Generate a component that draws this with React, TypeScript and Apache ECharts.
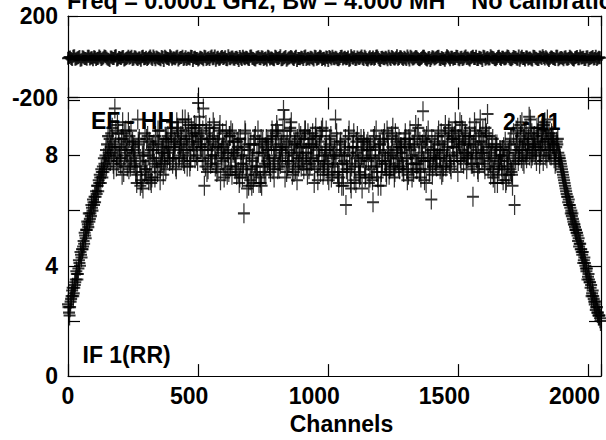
import React, { useEffect, useRef } from "react";
import * as echarts from "echarts";

// Channel sampling used for the plotted points: interleaved sets, every 8th channel each
const CHANNEL_STEP = 8;
const OFFSET_A = 4;
const OFFSET_B = 0;
const OFFSET_C = 2;
const OFFSET_D = 6;

const xTickLabels = [0, 500, 1000, 1500, 2000];
const ampTickLabels = [0, 4, 8];
const phaseTickLabels = [-200, 200];

const titleText = "Freq = 0.0001 GHz, Bw = 4.000 MH    No calibration";
const baselineLeft = "EF - HH";
const baselineRight = "2 - 11";
const ifLabel = "IF 1(RR)";
const xAxisName = "Channels";

// Amplitude, channels 4, 12, 20, ...
const amplitudeA = [
  2.3, 2.8, 2.9, 3.4, 3.5, 4.1, 4.3, 4.9, 5.0, 5.5, 5.7, 6.1, 6.2, 6.7, 6.7, 7.2,
  7.2, 7.7, 7.6, 8.1, 8.3, 8.5, 9.7, 8.0, 8.4, 7.9, 8.6, 8.2, 7.6, 8.7, 8.0, 8.3,
  7.4, 9.3, 7.8, 7.0, 8.1, 7.5, 8.0, 7.1, 8.3, 7.7, 7.9, 8.4, 7.6, 8.2, 8.0, 8.5,
  8.1, 8.6, 7.9, 8.4, 8.8, 8.0, 8.5, 7.8, 8.9, 8.2, 7.6, 8.7, 8.3, 9.0, 9.9, 8.4,
  7.9, 6.9, 8.8, 8.2, 7.7, 8.5, 8.0, 7.4, 8.6, 8.1, 7.8, 8.4, 7.3, 8.7, 7.9, 8.2,
  7.6, 8.3, 7.2, 8.0, 5.9, 7.5, 8.4, 7.1, 7.8, 8.6, 7.4, 8.1, 7.0, 8.5, 7.7, 8.2,
  7.9, 8.6, 7.5, 8.2, 8.9, 7.8, 8.4, 9.65, 8.0, 7.6, 8.7, 8.1, 7.4, 8.5, 7.9, 8.3,
  8.0, 8.6, 7.7, 8.3, 7.9, 8.8, 7.5, 8.2, 7.8, 8.5, 7.3, 8.1, 7.6, 8.4, 7.2, 8.0,
  9.3, 7.4, 8.1, 6.9, 7.8, 6.2, 8.3, 7.5, 8.0, 7.1, 8.5, 7.7, 7.3, 8.2, 7.6, 8.4,
  7.0, 7.9, 6.3, 8.3, 7.6, 8.0, 7.4, 8.6, 7.8, 8.2, 7.5, 8.7, 8.0, 7.7, 8.4, 8.1,
  7.6, 8.5, 7.9, 7.3, 8.2, 7.7, 8.6, 7.5, 8.0, 7.2, 9.6, 7.8, 8.3, 7.4, 6.4, 8.1,
  7.7, 8.4, 7.9, 7.3, 8.2, 7.6, 8.5, 8.0, 8.8, 7.8, 8.3, 8.6, 7.9, 8.9, 8.1, 7.5,
  8.4, 8.0, 6.5, 8.7, 8.2, 7.7, 8.5, 8.0, 9.0, 9.5, 7.8, 8.3, 7.4, 8.0, 7.6, 8.2,
  7.3, 7.9, 7.1, 8.1, 7.5, 6.9, 6.2, 8.4, 8.0, 8.7, 7.8, 8.5, 8.2, 9.4, 7.9, 8.6,
  8.1, 8.8, 7.7, 8.4, 9.1, 8.0, 8.6, 8.2, 8.7, 7.9, 8.3, 8.1, 7.8, 7.4, 7.0, 6.6,
  6.4, 5.9, 5.7, 5.4, 5.2, 4.7, 4.6, 4.1, 4.0, 3.5, 3.4, 2.9, 2.8, 2.4, 2.3, 2.1,
];

// Amplitude, channels 0, 8, 16, ...
const amplitudeB = [
  2.6, 2.5, 3.1, 3.2, 3.8, 3.9, 4.5, 4.6, 5.2, 5.3, 5.9, 5.8, 6.4, 6.3, 6.9, 7.0,
  7.5, 7.4, 8.0, 7.9, 8.6, 8.1, 7.5, 8.9, 7.8, 8.3, 7.3, 8.8, 8.1, 9.2, 7.6, 8.5,
  7.9, 7.0, 8.4, 7.6, 6.8, 8.8, 7.3, 8.5, 7.0, 8.2, 8.7, 7.4, 8.9, 7.8, 8.3, 7.5,
  8.7, 7.9, 9.2, 8.2, 7.5, 8.9, 8.3, 9.3, 7.7, 8.6, 9.1, 8.0, 8.8, 7.9, 8.5, 9.4,
  8.6, 9.7, 7.6, 8.4, 9.0, 7.9, 8.7, 8.3, 7.5, 9.1, 8.2, 7.2, 8.9, 8.0, 7.6, 8.8,
  8.1, 7.3, 8.6, 7.7, 7.9, 8.9, 6.8, 8.2, 7.5, 7.0, 8.7, 7.6, 8.4, 6.9, 8.0, 7.3,
  8.5, 7.6, 8.9, 7.2, 8.3, 8.7, 7.7, 8.1, 9.3, 7.4, 8.2, 8.9, 7.7, 8.4, 7.1, 8.8,
  7.6, 8.3, 8.9, 7.3, 8.6, 7.8, 8.4, 9.0, 7.1, 8.7, 8.0, 7.5, 8.9, 7.7, 8.3, 7.4,
  8.2, 8.8, 7.0, 8.5, 7.4, 8.0, 7.7, 8.9, 6.8, 8.3, 7.9, 8.7, 7.2, 8.0, 8.6, 7.3,
  8.5, 7.2, 8.0, 7.6, 8.9, 6.9, 8.4, 7.7, 8.8, 7.3, 8.1, 7.6, 9.0, 7.4, 8.2, 8.6,
  8.3, 7.5, 8.8, 7.1, 8.4, 8.0, 7.4, 9.1, 7.7, 8.5, 7.9, 8.6, 7.0, 8.9, 7.8, 7.3,
  8.2, 7.6, 8.9, 8.0, 7.4, 8.7, 7.9, 9.0, 7.5, 8.6, 9.2, 7.8, 8.4, 9.1, 7.7, 8.7,
  7.9, 9.0, 8.3, 7.6, 8.9, 7.4, 9.3, 8.1, 7.7, 8.8, 8.2, 7.3, 8.6, 7.0, 8.4, 7.5,
  8.0, 7.1, 8.5, 7.6, 8.2, 7.4, 8.8, 7.9, 9.0, 8.3, 9.2, 7.7, 8.9, 8.4, 9.3, 8.0,
  8.7, 7.8, 9.0, 8.2, 8.5, 9.2, 7.9, 8.8, 8.0, 8.6, 7.7, 8.4, 8.0, 7.6, 7.2, 6.8,
  6.5, 6.2, 5.8, 5.5, 5.3, 4.9, 4.8, 4.4, 4.3, 3.8, 3.7, 3.2, 3.1, 2.6, 2.5, 2.2,
];

// Amplitude, channels 2, 10, 18, ...
const amplitudeC = [
  2.5, 2.7, 3.2, 3.3, 3.7, 4.2, 4.4, 4.7, 5.1, 5.6, 5.6, 6.2, 6.3, 6.5, 6.9, 7.3,
  7.4, 7.9, 8.2, 8.7, 7.8, 9.0, 8.2, 7.6, 8.8, 7.7, 9.2, 8.0, 8.5, 7.5, 8.9, 8.1,
  8.2, 7.3, 8.6, 7.1, 8.0, 7.5, 8.7, 7.8, 7.2, 8.4, 7.6, 8.9, 7.1, 8.1, 7.7, 8.6,
  8.3, 9.0, 7.7, 8.5, 9.2, 7.9, 8.7, 8.1, 9.3, 7.6, 8.4, 9.0, 8.2, 8.8, 7.8, 9.1,
  8.3, 7.8, 9.1, 7.5, 8.6, 8.0, 9.0, 7.7, 8.3, 7.1, 8.8, 7.9, 8.5, 7.4, 8.9, 8.1,
  7.5, 8.5, 7.0, 8.2, 7.7, 8.8, 7.3, 8.0, 6.9, 8.4, 7.6, 8.9, 7.2, 8.1, 7.4, 8.6,
  8.2, 7.4, 8.7, 7.9, 9.1, 7.6, 8.3, 8.9, 7.2, 8.5, 7.8, 9.2, 8.0, 7.5, 8.6, 7.9,
  8.4, 7.5, 8.1, 8.8, 7.7, 8.3, 7.0, 8.6, 8.0, 7.4, 9.0, 7.8, 8.2, 7.1, 8.7, 7.9,
  7.7, 8.5, 7.2, 8.0, 6.9, 8.6, 7.4, 8.1, 7.6, 8.8, 7.0, 8.3, 7.8, 6.8, 8.5, 7.9,
  7.8, 8.3, 7.1, 8.7, 7.4, 8.2, 6.9, 8.5, 7.7, 8.9, 7.3, 8.0, 7.6, 8.8, 7.9, 7.5,
  8.1, 7.4, 8.6, 7.9, 8.9, 7.2, 8.3, 7.7, 9.0, 7.5, 8.4, 7.1, 8.7, 7.9, 8.2, 7.6,
  8.5, 7.9, 8.2, 8.8, 7.6, 9.1, 8.3, 7.7, 8.6, 8.0, 8.9, 7.4, 9.2, 8.2, 8.5, 7.9,
  8.1, 8.6, 7.7, 9.2, 7.9, 8.5, 8.1, 8.9, 7.5, 8.3, 8.7, 7.9, 7.2, 8.4, 7.0, 7.8,
  7.6, 8.3, 7.0, 7.8, 8.4, 7.3, 7.7, 8.9, 7.8, 9.1, 8.2, 8.8, 7.9, 8.6, 9.0, 8.3,
  8.4, 9.0, 8.2, 8.9, 7.8, 8.6, 9.3, 8.1, 8.8, 8.4, 7.8, 8.6, 7.9, 7.5, 7.1, 6.7,
  6.3, 6.1, 5.9, 5.5, 5.2, 5.0, 4.6, 4.5, 4.1, 3.9, 3.5, 3.3, 2.9, 2.7, 2.3, 2.2,
];

// Amplitude, channels 6, 14, 22, ...
const amplitudeD = [
  2.2, 2.9, 3.0, 3.5, 3.7, 4.0, 4.6, 4.8, 5.3, 5.4, 5.9, 6.0, 6.5, 6.6, 7.1, 7.0,
  7.6, 7.5, 8.4, 8.0, 8.8, 7.7, 8.3, 9.1, 7.9, 8.6, 7.4, 8.9, 8.2, 7.8, 8.4, 7.7,
  7.6, 8.5, 6.9, 8.0, 7.4, 8.6, 7.1, 8.2, 7.9, 7.2, 8.5, 7.7, 8.1, 7.3, 8.6, 7.9,
  7.8, 8.8, 8.3, 7.6, 9.0, 8.4, 7.9, 8.6, 8.2, 9.2, 7.8, 8.5, 9.1, 8.0, 8.7, 8.3,
  8.9, 8.2, 7.4, 8.6, 8.0, 9.2, 7.6, 8.4, 8.9, 7.9, 8.3, 7.5, 8.1, 8.7, 7.3, 8.5,
  8.0, 7.4, 8.6, 7.2, 8.3, 7.6, 6.9, 8.4, 7.9, 7.3, 8.1, 7.0, 8.6, 7.6, 8.3, 7.8,
  7.7, 8.4, 8.0, 8.8, 7.5, 8.2, 7.9, 8.6, 8.3, 7.8, 9.0, 7.3, 8.4, 8.1, 7.6, 8.7,
  7.8, 8.9, 8.1, 7.5, 8.4, 7.9, 8.7, 7.6, 8.3, 8.9, 7.7, 8.2, 7.3, 8.6, 8.0, 7.6,
  8.0, 7.3, 8.4, 7.7, 8.2, 7.5, 8.7, 7.0, 8.3, 7.6, 8.1, 7.4, 8.6, 7.9, 7.2, 8.2,
  8.2, 7.5, 8.6, 7.9, 7.2, 8.4, 7.8, 8.1, 7.4, 8.6, 7.9, 8.3, 7.2, 8.5, 7.6, 8.3,
  7.8, 8.3, 7.5, 8.6, 7.7, 8.4, 7.9, 8.7, 7.4, 8.1, 7.8, 8.5, 7.9, 7.5, 8.6, 8.0,
  7.9, 8.7, 7.5, 8.4, 8.1, 7.8, 8.9, 7.6, 8.3, 8.7, 8.1, 8.5, 7.8, 8.4, 8.8, 8.0,
  8.7, 7.7, 8.4, 8.1, 7.5, 8.8, 7.9, 8.4, 8.7, 7.6, 8.1, 7.5, 7.9, 8.3, 7.7, 8.0,
  8.2, 7.5, 8.0, 7.3, 8.6, 7.7, 8.1, 8.5, 8.2, 7.9, 8.6, 8.1, 8.4, 8.0, 8.8, 8.2,
  8.3, 8.5, 8.0, 8.7, 8.3, 8.9, 8.2, 8.5, 8.4, 8.2, 8.5, 7.9, 7.7, 7.3, 6.9, 6.5,
  6.2, 6.0, 5.6, 5.3, 5.1, 4.8, 4.5, 4.2, 3.9, 3.6, 3.4, 3.0, 2.7, 2.5, 2.2, 2.0,
];

// Phase (degrees), channels 4, 12, 20, ...
const phaseA = [
  -4, -9, 2, -12, -6, 1, -15, -3, -8, 3, -11, -5, 0, -14, -7, -2,
  -10, 4, -6, -13, -1, -8, 2, -16, -4, -9, 1, -12, -5, -7, 3, -11,
  -3, -14, -6, 0, -10, -2, -8, 4, -13, -5, -1, -9, -15, -4, 2, -7,
  -12, -1, -6, -10, 3, -8, -4, -14, 0, -7, -11, 1, -5, -9, -16, -2,
  -8, 2, -13, -5, -1, -10, 4, -6, -12, -3, -9, 0, -15, -7, -2, -11,
  -4, -9, 1, -14, -6, -2, -11, 3, -7, -13, -5, 0, -10, -3, -8, -16,
  -1, -6, -12, 2, -9, -4, -15, -7, 1, -11, -5, -2, -13, 3, -8, -10,
  -5, 0, -14, -7, -3, -10, 2, -12, -6, -1, -9, -16, -4, 1, -11, -7,
  -2, -13, -8, 3, -6, -10, -1, -15, -5, 0, -12, -7, -3, -9, 2, -14,
  -6, -11, -1, -8, 4, -13, -4, -9, -2, -15, -7, 1, -10, -5, -12, 0,
  -9, -3, -14, -6, 2, -11, -5, -1, -13, -8, 3, -7, -16, -4, -10, -2,
  -7, 1, -12, -4, -10, -6, 0, -15, -3, -9, 2, -11, -5, -13, -1, -8,
  -11, -5, 2, -9, -14, -2, -7, 3, -12, -4, -10, -1, -6, -15, 0, -8,
  -3, -10, -6, 1, -13, -8, -2, -11, 4, -5, -9, -16, -1, -7, -12, 2,
  -6, -14, -1, -9, -4, 0, -12, -7, -3, -10, 3, -15, -5, -8, -2, -11,
  -8, -2, -13, -5, 1, -10, -6, -3, -14, 0, -9, -4, -11, 2, -7, -5,
];

// Phase (degrees), channels 0, 8, 16, ...
const phaseB = [
  -7, -1, -13, 5, -10, -4, -17, 0, -8, -12, 3, -6, -15, -2, -9, 4,
  -14, -5, 1, -11, -18, -3, -8, 5, -12, -6, -1, -16, -9, 2, -4, -13,
  0, -10, -6, -17, 3, -8, -13, -2, -7, 4, -15, -5, -11, 1, -19, -3,
  -9, 5, -12, -6, -1, -16, -4, 2, -10, -14, -7, 3, -18, -2, -8, -11,
  -5, -15, 0, -9, -13, 4, -7, -17, -3, -11, 1, -6, -14, 5, -10, -1,
  -12, -3, -18, -7, 2, -10, -5, -14, 4, -8, -16, -2, -9, 0, -13, -6,
  3, -11, -7, -15, -1, -9, 5, -13, -4, -17, -6, 1, -10, -3, -19, -8,
  -2, -14, 4, -8, -12, -5, -16, 0, -9, 3, -13, -7, -1, -18, -4, 2,
  -10, -6, -15, 1, -11, -3, -8, -17, 5, -7, -13, -1, -9, 4, -14, -5,
  -16, 0, -8, -12, 3, -5, -18, -2, -10, -6, 2, -14, -4, -11, 5, -9,
  -1, -13, -7, 4, -16, -3, -10, 1, -8, -15, -5, 3, -12, -6, -19, 0,
  -11, -4, 2, -14, -8, -17, 5, -6, -2, -12, -9, 1, -15, -3, -10, 4,
  -6, -16, -1, -9, 3, -13, -5, -18, 0, -7, -11, 5, -4, -14, -8, 2,
  -13, -2, -10, 4, -7, -15, 1, -4, -12, -17, 3, -8, -1, -11, -6, -16,
  1, -9, -14, -3, 5, -11, -6, -18, -1, -8, -13, 2, -10, -4, -15, 0,
  -12, 3, -7, -16, -2, -10, 4, -5, -13, -1, -17, -6, 1, -9, -14, -3,
];

export default function App() {
  const ref = useRef<HTMLDivElement>(null);

  useEffect(() => {
    if (!ref.current) return;
    const chart = echarts.init(ref.current, undefined, { renderer: "svg" });
    const fontFamily = "'Liberation Sans', Arial, Helvetica, sans-serif";
    const black = "#000";
    const cross = "path://M0,6L12,6M6,0L6,12";

    const toPoints = (vals: number[], offset: number) =>
      vals.map((v, i) => [offset + i * CHANNEL_STEP, v]);
    const ampData = [
      ...toPoints(amplitudeB, OFFSET_B),
      ...toPoints(amplitudeC, OFFSET_C),
      ...toPoints(amplitudeA, OFFSET_A),
      ...toPoints(amplitudeD, OFFSET_D),
    ];
    const phaseData = [...toPoints(phaseB, OFFSET_B), ...toPoints(phaseA, OFFSET_A)];

    const axisLine = { show: true, onZero: false, lineStyle: { color: black, width: 1.2 } };
    const labelFont = { fontFamily, fontWeight: "bold" as const, fontSize: 23, color: black };
    const GRID_LEFT = 68;
    const GRID_RIGHT = 5;
    const TOP_Y = 16;
    const MID_Y = 97.5;
    const BOT_Y = 385;
    const X_MAX = 2048;

    const xCommon = (gridIndex: number, position: "top" | "bottom", tickLen: number, showLabel: boolean) => ({
      type: "value" as const,
      gridIndex,
      position,
      min: 0,
      max: X_MAX,
      interval: 500,
      axisLine,
      axisTick: { show: true, inside: true, length: tickLen, lineStyle: { color: black, width: 1.2 } },
      splitLine: { show: false },
      axisLabel: showLabel
        ? {
            show: true,
            margin: 8,
            ...labelFont,
            formatter: (v: number) => {
              if (!xTickLabels.includes(v)) return "";
              const s = String(v);
              if (s.length === 1) return `{a|${s}}`;
              if (s.length === 3) return `{b|${s}}`;
              return `{c|${s}}`;
            },
            rich: {
              a: { ...labelFont },
              b: { ...labelFont, padding: [0, 18, 0, 0] },
              c: { ...labelFont, padding: [0, 28, 0, 0] },
            },
          }
        : { show: false },
    });

    const yCommon = (
      gridIndex: number,
      position: "left" | "right",
      min: number,
      max: number,
      interval: number,
      tickLen: number,
      labels: number[] | null
    ) => ({
      type: "value" as const,
      gridIndex,
      position,
      min,
      max,
      interval,
      axisLine,
      axisTick: { show: true, inside: true, length: tickLen, lineStyle: { color: black, width: 1.2 } },
      splitLine: { show: false },
      axisLabel: labels
        ? {
            show: true,
            margin: 10,
            ...labelFont,
            formatter: (v: number) => (labels.includes(v) ? String(v) : ""),
          }
        : { show: false },
    });

    const textStyle = (text: string) => ({
      text,
      fill: black,
      font: `bold 23px ${fontFamily}`,
      align: "left",
      verticalAlign: "middle",
      textAlign: "left",
      textVerticalAlign: "middle",
    });

    chart.setOption({
      animation: false,
      backgroundColor: "#fff",
      grid: [
        { left: GRID_LEFT, right: GRID_RIGHT, top: TOP_Y, height: MID_Y - TOP_Y },
        { left: GRID_LEFT, right: GRID_RIGHT, top: MID_Y, height: BOT_Y - MID_Y },
      ],
      xAxis: [
        xCommon(0, "bottom", 10, false),
        xCommon(0, "top", 10, false),
        {
          ...xCommon(1, "bottom", 12, true),
          name: xAxisName,
          nameLocation: "middle",
          nameGap: 29,
          nameTextStyle: { ...labelFont, padding: [0, 0, 0, 14] },
        },
        xCommon(1, "top", 12, false),
      ],
      yAxis: [
        yCommon(0, "left", -200, 200, 400, 10, phaseTickLabels),
        yCommon(0, "right", -200, 200, 400, 10, null),
        yCommon(1, "left", 0, 10.1, 2, 12, ampTickLabels),
        yCommon(1, "right", 0, 10.1, 2, 12, null),
      ],
      series: [
        {
          type: "scatter",
          name: "Phase",
          xAxisIndex: 0,
          yAxisIndex: 0,
          data: phaseData,
          symbol: cross,
          symbolSize: [12, 13],
          symbolKeepAspect: false,
          itemStyle: { color: black, borderColor: black, borderWidth: 2 },
        },
        {
          type: "scatter",
          name: "Amplitude",
          xAxisIndex: 2,
          yAxisIndex: 2,
          data: ampData,
          symbol: cross,
          symbolSize: [12, 20],
          symbolKeepAspect: false,
          itemStyle: { color: black, borderColor: black, borderWidth: 1.6 },
        },
      ],
      graphic: [
        { type: "text", x: 67, y: 0.75, silent: true, style: { ...textStyle(titleText), font: `bold 23.4px ${fontFamily}` } },
        { type: "text", x: 91, y: 121, silent: true, style: textStyle(baselineLeft) },
        { type: "text", x: 503, y: 121.5, silent: true, style: textStyle(baselineRight) },
        { type: "text", x: 82.5, y: 354.5, silent: true, style: textStyle(ifLabel) },
      ],
    });

    return () => {
      chart.dispose();
    };
  }, []);

  return (
    <div
      ref={ref}
      style={{ position: "fixed", left: 0, top: 0, width: 606, height: 440, background: "#fff" }}
    />
  );
}
